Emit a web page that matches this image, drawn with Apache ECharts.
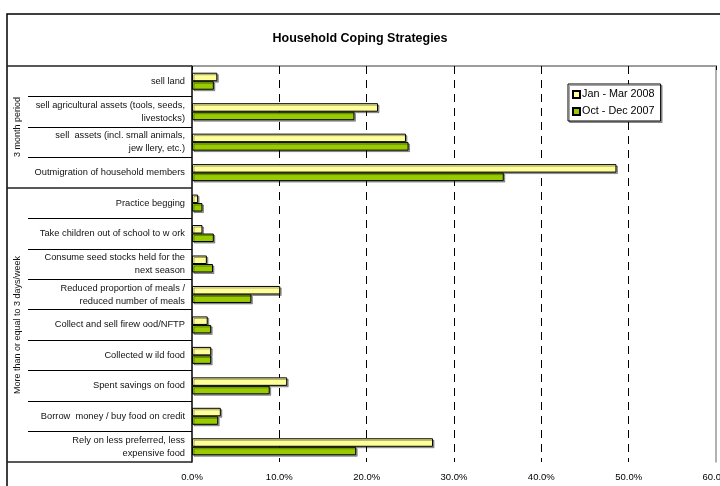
<!DOCTYPE html>
<html>
<head>
<meta charset="utf-8">
<script src="https://cdn.jsdelivr.net/npm/echarts@6/dist/echarts.min.js"></script>
<style>html,body{margin:0;padding:0;background:#fff}#c{width:720px;height:486px}</style>
</head>
<body>
<div id="c"></div>
<script>
const categories = [
  'sell land',
  'sell agricultural assets (tools, seeds,\nlivestocks)',
  'sell  assets (incl. small animals,\njew llery, etc.)',
  'Outmigration of household members',
  'Practice begging',
  'Take children out of school to w ork',
  'Consume seed stocks held for the\nnext season',
  'Reduced proportion of meals /\nreduced number of meals',
  'Collect and sell firew ood/NFTP',
  'Collected w ild food',
  'Spent savings on food',
  'Borrow  money / buy food on credit',
  'Rely on less preferred, less\nexpensive food'
];
const janMar2008 = [2.9, 21.3, 24.5, 48.6, 0.7, 1.2, 1.7, 10.1, 1.8, 2.2, 10.9, 3.3, 27.6];
const octDec2007 = [2.5, 18.6, 24.8, 35.7, 1.2, 2.5, 2.4, 6.8, 2.2, 2.2, 8.9, 3.0, 18.8];
const groups = ['3 month period', 'More than or equal to 3 days/week'];
const groupCenters = [2, 8.5];
const groupBounds = [0, 4, 13];
const innerBounds = [1, 2, 3, 5, 6, 7, 8, 9, 10, 11, 12];
const xTicks = [0, 10, 20, 30, 40, 50, 60];

const FONT = 'Liberation Sans, Arial, sans-serif';
const chart = echarts.init(document.getElementById('c'));
const barShadow = {shadowColor: 'rgba(0,0,0,0.35)', shadowOffsetX: 1.5, shadowOffsetY: 1.5, shadowBlur: 0};
chart.setOption({
  animation: false,
  backgroundColor: '#fff',
  title: {
    text: 'Household Coping Strategies',
    left: 'center', top: 27,
    textStyle: {fontFamily: FONT, fontSize: 12.5, fontWeight: 'bold', color: '#000'}
  },
  graphic: [{
    type: 'rect', shape: {x: 7, y: 14, width: 740, height: 500},
    style: {fill: 'none', stroke: '#000', lineWidth: 1.5}, silent: true
  }],
  legend: {
    orient: 'vertical', left: 568, top: 84,
    padding: [5, 6, 4, 4], itemGap: 6, itemWidth: 7, itemHeight: 7,
    backgroundColor: '#fff', borderColor: '#000', borderWidth: 1,
    shadowColor: 'rgba(0,0,0,0.35)', shadowOffsetX: 1.5, shadowOffsetY: 1.5,
    textStyle: {fontFamily: FONT, fontSize: 10.8, color: '#000', padding: [0, 0, 0, -3]},
    icon: 'rect',
    data: ['Jan - Mar 2008', 'Oct - Dec 2007']
  },
  grid: {left: 192, right: 4, top: 66, bottom: 24, outerBoundsMode: 'none', containLabel: false},
  xAxis: [{
    type: 'value', min: 0, max: 60, interval: 10,
    axisLine: {show: true, lineStyle: {color: '#777', width: 2}},
    axisTick: {show: true, length: 4, lineStyle: {color: '#000'}},
    axisLabel: {margin: 10, fontFamily: FONT, fontSize: 9.5, color: '#000',
      formatter: v => v.toFixed(1) + '%'},
    splitLine: {show: true, showMinLine: false, showMaxLine: false,
      lineStyle: {color: '#000', type: [8, 6], width: 1}}
  }, {
    type: 'value', min: 0, max: 60, position: 'top',
    axisLine: {show: true, lineStyle: {color: '#aaa', width: 1.5}},
    axisTick: {show: false}, axisLabel: {show: false}, splitLine: {show: false}
  }],
  yAxis: [{
    type: 'category', data: categories, inverse: true,
    axisLine: {show: true, lineStyle: {color: '#000', width: 1.5}},
    axisTick: {show: false},
    axisLabel: {margin: 7, fontFamily: FONT, fontSize: 9.3, lineHeight: 13, color: '#111', align: 'right'}
  }, {
    type: 'value', min: 0, max: 13, inverse: true, position: 'left',
    axisLine: {show: false},
    axisTick: {show: true, customValues: innerBounds, length: 164, lineStyle: {color: '#000', width: 1}},
    axisLabel: {show: false}, splitLine: {show: false}
  }, {
    type: 'value', min: 0, max: 13, inverse: true, position: 'left',
    axisLine: {show: false},
    axisTick: {show: true, customValues: groupBounds, length: 185, lineStyle: {color: '#222', width: 1.5}},
    axisLabel: {show: true, customValues: groupCenters, rotate: 90, margin: 170,
      fontFamily: FONT, fontSize: 9, color: '#111',
      formatter: v => groups[groupCenters.indexOf(v)]},
    splitLine: {show: false}
  }, {
    type: 'value', min: 0, max: 13, position: 'right',
    axisLine: {show: true, lineStyle: {color: '#999', width: 1.5}},
    axisTick: {show: false}, axisLabel: {show: false}, splitLine: {show: false}
  }],
  series: [{
    name: 'Jan - Mar 2008', type: 'bar', data: janMar2008, yAxisIndex: 0,
    barWidth: 8.5, barGap: '0%',
    itemStyle: Object.assign({color: '#FFFF99', borderColor: '#000', borderWidth: 1}, barShadow)
  }, {
    name: 'Oct - Dec 2007', type: 'bar', data: octDec2007, yAxisIndex: 0,
    barWidth: 8.5, barGap: '0%',
    itemStyle: Object.assign({color: '#99CC00', borderColor: '#000', borderWidth: 1}, barShadow)
  }]
});
</script>
</body>
</html>
